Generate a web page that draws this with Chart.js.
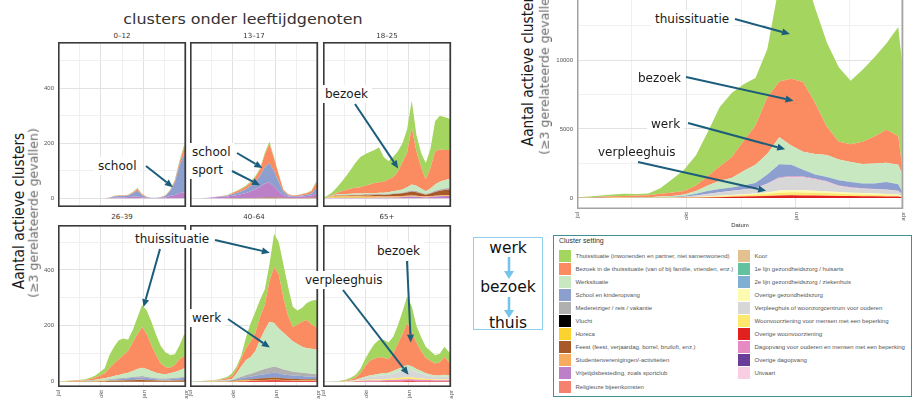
<!DOCTYPE html>
<html lang="nl">
<head>
<meta charset="utf-8">
<title>clusters onder leeftijdgenoten</title>
<script src="https://cdn.jsdelivr.net/npm/chart.js@4.4.1/dist/chart.umd.min.js"></script>
<style>
html,body{margin:0;padding:0;background:#fff;}
body{width:922px;height:403px;overflow:hidden;position:relative;font-family:"DejaVu Sans",sans-serif;}
canvas{position:absolute;display:block;}
.t{position:absolute;white-space:nowrap;line-height:1;}
.ann{position:absolute;white-space:nowrap;background:#fff;color:#1a1a1a;font:12px "DejaVu Sans",sans-serif;line-height:14px;padding:2px 4px;z-index:5;}
.strip{position:absolute;font:7px "DejaVu Sans",sans-serif;color:#333;transform:translate(-50%,-50%);white-space:nowrap;line-height:1;}
#legend{position:absolute;left:553px;top:235px;width:357px;height:160px;border:1.5px solid #3f8f93;background:#fff;font-family:"Liberation Sans",Arial,sans-serif;z-index:3;}
#legend .lt{position:absolute;left:5px;top:1px;font-size:7px;color:#333;white-space:nowrap;}
#legend .it{position:absolute;height:12px;width:170px;}
#legend .sw{position:absolute;left:0;top:0;width:12px;height:12px;}
#legend .lb{position:absolute;left:16.5px;top:0;font-size:6px;line-height:12px;color:#555;white-space:nowrap;}
#flow{position:absolute;left:473px;top:237px;width:68px;height:91px;border:1.5px solid #8fd0ec;background:#fff;z-index:3;}
#overlay{position:absolute;left:0;top:0;z-index:10;pointer-events:none;}
</style>
</head>
<body>
<div id="root"></div>

<div class="t" style="left:243px;top:20px;font-size:13.5px;color:#333;transform:translate(-50%,-50%) scaleX(1.18);">clusters onder leeftijdgenoten</div>
<div class="t" style="left:19px;top:211px;font-size:13.7px;color:#1a1a1a;transform:translate(-50%,-50%) scaleX(1.15) rotate(-90deg);">Aantal actieve clusters</div>
<div class="t" style="left:34px;top:213px;font-size:12.5px;color:#6a6a6a;transform:translate(-50%,-50%) rotate(-90deg);">(≥3 gerelateerde gevallen)</div>
<div class="t" style="left:528px;top:68px;font-size:13.7px;color:#1a1a1a;transform:translate(-50%,-50%) scaleX(1.15) rotate(-90deg);">Aantal actieve clusters</div>
<div class="t" style="left:545px;top:70px;font-size:12.5px;color:#6a6a6a;transform:translate(-50%,-50%) rotate(-90deg);">(≥3 gerelateerde gevallen)</div>

<div id="flow">
  <div class="t" style="left:34px;top:11px;font-size:15.5px;color:#111;transform:translate(-50%,-50%);">werk</div>
  <div class="t" style="left:34px;top:50px;font-size:15.5px;color:#111;transform:translate(-50%,-50%);">bezoek</div>
  <div class="t" style="left:34px;top:86px;font-size:15.5px;color:#111;transform:translate(-50%,-50%);">thuis</div>
</div>
<div id="legend"><div class="lt">Cluster setting</div></div>

<svg id="overlay" width="922" height="403" xmlns="http://www.w3.org/2000/svg"></svg>

<script>
// ---------------- data ----------------
const DAYS = [0,10,20,30,40,50,60,70,80,90,100,110,120,130,140,150,160,170,180,190,200,210,220,230,240,250,260,270,273];
const X_MAJOR_DAYS = [0,92,184,274];
const X_MAJOR_LABELS = ['jul','okt','jan','apr'];
const X_MINOR_DAYS = [46,138,229];
const SMALL_Y_MAJOR = [0,200,400];
const SMALL_Y_MINOR = [100,300,500];
const BIG_Y_MAJOR = [0,5000,10000,15000];
const BIG_Y_MINOR = [2500,7500,12500];
const PANEL_LABELS = ['0–12','13–17','18–25','26–39','40–64','65+'];

// 0-12
const A_vrijetijd = [0,0,0,0,0,0,0,0,0,0,0,1,2,3,3,4,5,6,3,1,1,1,1,3,8,12,18,22,20];
const A_school    = [0,0,0,0,0,0,0,0,0,0,0,1,4,5,5,6,12,22,8,2,1,1,2,5,18,45,100,140,125];
const A_bezoek    = [0,0,0,0,0,0,0,0,0,0,0,1,2,2,2,2,4,6,3,1,0,0,1,2,3,6,12,22,20];
const A_thuis     = [0,0,0,0,0,0,0,0,0,0,0,0,1,1,1,1,2,3,2,1,0,0,0,1,2,3,6,10,10];
// 13-17
const B_feest     = [0,0,0,0,0,0,0,0,0,1,1,1,1,1,1,2,3,3,3,2,2,1,1,1,1,2,2,3,3];
const B_vrijetijd = [0,0,0,1,2,3,4,5,6,8,10,14,18,24,32,40,50,55,40,22,10,5,4,4,5,6,8,14,10];
const B_school    = [0,0,0,0,0,1,1,2,3,5,8,10,14,20,28,40,60,70,55,35,12,5,3,3,4,5,7,18,12];
const B_bezoek    = [0,0,0,0,0,0,1,1,2,4,6,8,10,12,15,22,45,70,45,25,6,3,2,3,4,5,8,20,15];
const B_thuis     = [0,0,0,0,0,0,0,1,1,2,2,3,3,4,5,5,6,8,6,4,2,1,1,1,2,2,3,6,5];
// 18-25
const C_vrijetijd = [0,1,1,2,2,2,2,2,2,2,2,2,2,2,2,3,3,4,5,6,5,4,3,4,6,7,8,8,8];
const C_horeca    = [0,1,2,3,3,3,3,3,3,2,2,1,1,1,1,1,1,1,1,1,1,1,1,1,1,1,1,1,1];
const C_student   = [0,1,3,4,4,4,4,4,4,5,5,5,4,3,3,3,3,3,3,3,3,2,2,2,2,2,3,3,3];
const C_feest     = [0,0,1,2,2,2,3,3,3,4,4,5,6,6,7,8,9,10,12,14,13,10,7,10,14,17,18,20,18];
const C_reis      = [1,1,1,1,1,1,1,1,1,1,1,1,2,2,2,2,2,2,3,4,4,3,2,3,4,5,5,5,5];
const C_werk      = [0,0,1,2,3,3,3,4,4,4,4,4,5,6,7,8,10,12,16,22,19,15,10,15,23,28,30,33,30];
const C_bezoek    = [0,1,3,6,10,15,19,21,23,27,32,37,38,40,46,51,67,98,125,205,125,78,43,75,120,118,110,105,105];
const C_thuis     = [1,5,10,20,35,52,70,92,110,115,118,120,127,90,67,74,75,70,85,100,60,52,60,70,110,122,120,115,110];
// 26-39
const D_feest     = [0,0,0,1,1,1,1,1,1,2,2,3,3,4,4,5,5,6,6,5,5,4,3,3,3,4,4,5,5];
const D_horeca    = [0,1,1,1,1,1,1,1,2,2,2,1,1,1,1,1,1,1,1,1,1,1,1,1,1,1,1,1,1];
const D_school    = [0,0,0,0,0,0,0,1,1,1,2,3,4,4,5,6,7,8,8,7,5,4,4,4,5,6,7,8,7];
const D_reis      = [0,0,0,0,0,0,1,1,1,1,1,2,2,3,3,3,4,4,5,4,4,3,3,3,3,3,3,4,4];
const D_werk      = [0,0,0,0,0,1,1,1,2,4,5,7,10,12,15,17,21,26,30,28,23,20,17,16,18,21,25,30,28];
const D_bezoek    = [0,0,1,1,2,2,3,5,8,12,18,32,45,56,67,78,102,125,145,125,92,63,37,25,20,25,40,44,43];
const D_thuis     = [1,1,1,1,1,2,3,5,7,13,18,47,60,68,60,40,45,60,80,85,85,73,63,53,46,38,50,78,77];
// 40-64
const E_overwoon  = [0,0,0,0,0,0,0,0,0,1,1,2,2,3,3,4,4,5,5,5,4,4,3,3,3,3,3,3,3];
const E_horeca    = [0,0,0,0,1,1,1,1,1,1,2,2,2,2,2,2,2,2,2,2,2,2,2,2,2,2,2,2,2];
const E_feest     = [0,0,0,0,0,0,1,1,1,1,2,3,4,4,5,6,6,7,8,7,6,5,5,5,4,4,4,4,4];
const E_school    = [0,0,0,0,0,0,0,0,1,2,4,6,8,9,11,13,15,16,17,16,14,13,12,11,11,10,9,9,9];
const E_reis      = [0,0,1,1,1,1,1,1,1,1,3,5,8,10,13,15,18,20,22,20,18,16,14,13,12,11,10,9,8];
const E_werk      = [0,0,0,0,0,1,1,2,3,4,18,37,54,60,76,110,140,165,156,140,131,120,109,101,93,90,90,88,86];
const E_bezoek    = [0,0,0,1,1,1,2,4,6,10,15,30,42,57,65,82,90,145,200,195,125,75,50,70,90,101,87,81,78];
const E_thuis     = [0,1,1,1,1,2,2,3,5,10,10,10,40,65,75,61,55,60,120,115,120,105,73,50,50,61,85,97,95];
// 65+
const F_overwoon  = [0,0,0,0,0,0,0,1,1,1,1,1,1,2,2,2,2,2,3,3,2,2,2,2,2,2,2,2,2];
const F_dagopv    = [0,0,0,0,0,0,1,1,2,2,3,3,3,3,4,4,5,6,6,6,5,5,4,4,3,3,3,3,3];
const F_woonv     = [0,0,0,0,0,1,1,1,2,3,3,4,4,4,4,5,6,6,7,7,6,5,4,4,3,3,4,3,3];
const F_verpleeg  = [0,0,0,1,1,1,2,3,5,8,10,11,13,14,15,18,21,25,28,25,20,17,13,11,9,9,10,9,8];
const F_werk      = [0,0,0,0,0,0,0,1,2,4,5,6,7,7,7,9,11,13,16,14,12,9,7,5,5,5,6,5,4];
const F_bezoek    = [0,0,0,0,1,2,4,8,18,37,53,57,60,55,48,62,90,118,150,125,95,72,55,49,43,48,63,48,45];
const F_thuis     = [0,0,1,1,2,4,7,10,15,25,35,53,62,65,60,60,65,80,95,90,60,50,40,35,30,30,37,35,35];
// all ages (big chart)
const G_overwoon  = [0,0,0,0,0,0,0,0,5,10,20,40,60,80,100,120,150,180,190,180,170,160,150,140,130,120,110,100,60];
const G_horeca    = [2,4,6,8,10,12,14,15,15,15,15,10,8,6,5,5,5,5,5,5,5,5,5,5,5,5,5,5,5];
const G_woonv     = [0,0,0,0,0,0,1,3,5,10,20,40,60,80,100,120,150,200,220,210,190,170,150,130,120,100,90,70,40];
const G_overgz    = [0,0,0,0,0,1,2,3,5,10,20,30,40,50,60,70,100,150,170,170,160,140,120,110,100,90,80,70,40];
const G_verpleeg  = [0,0,0,2,2,2,3,8,18,40,100,170,240,290,340,380,620,920,940,940,840,700,440,360,315,310,310,255,145];
const G_dagopv    = [0,0,0,0,0,0,0,1,2,5,5,10,12,14,15,25,30,50,55,55,50,45,35,35,30,25,25,20,10];
const G_school    = [1,1,4,5,8,10,10,20,30,60,120,200,230,230,280,360,645,945,820,490,285,300,380,370,350,400,530,480,200];
const G_werk      = [2,5,10,15,20,25,30,50,70,100,200,400,600,700,1050,1320,1500,1950,1400,1300,1480,1600,1500,1450,1410,1450,1400,1400,1300];
const G_bezoek    = [15,40,60,90,110,120,140,200,250,250,400,700,1050,1500,2180,2850,4100,4050,4850,5050,3720,2050,1300,1300,1620,1950,2400,2100,700];
const G_thuis     = [30,50,100,140,150,110,120,400,950,1550,2200,3200,4300,4650,4120,3450,3500,7050,8150,8100,6900,6100,5400,4600,5220,5750,6250,7900,7500];

const LEGEND_KEYS = ['thuis','bezoek','werk','school','reis','vlucht','horeca','feest','student','vrijetijd','religie',
                     'koor','eerstelijn','tweedelijn','overgz','verpleeg','woonv','overwoon','dagopv','overdag','uitvaart'];
const LEGEND_LABELS = [
  'Thuissituatie (inwonenden en partner, niet samenwonend)',
  'Bezoek in de thuissituatie (van of bij familie, vrienden, enz.)',
  'Werksituatie',
  'School en kinderopvang',
  'Medereiziger / reis / vakantie',
  'Vlucht',
  'Horeca',
  'Feest (feest, verjaardag, borrel, bruiloft, enz.)',
  'Studentenverenigingen/-activiteiten',
  'Vrijetijdsbesteding, zoals sportclub',
  'Religieuze bijeenkomsten',
  'Koor',
  '1e lijn gezondheidszorg / huisarts',
  '2e lijn gezondheidszorg / ziekenhuis',
  'Overige gezondheidszorg',
  'Verpleeghuis of woonzorgcentrum voor ouderen',
  'Woonvoorziening voor mensen met een beperking',
  'Overige woonvoorziening',
  'Dagopvang voor ouderen en mensen met een beperking',
  'Overige dagopvang',
  'Uitvaart'
];
const COLORS = {
  thuis:'#a4d55e', bezoek:'#fb8c61', werk:'#c7e8c1', school:'#8c9fce', reis:'#b0b0b0', vlucht:'#000000',
  horeca:'#fbd22e', feest:'#a8592a', student:'#f7ab5f', vrijetijd:'#bb80c8', religie:'#f7816f',
  koor:'#e3c18f', eerstelijn:'#63c19f', tweedelijn:'#7fb0d4', overgz:'#fdfbb1', verpleeg:'#d7d7d7',
  woonv:'#fde86e', overwoon:'#e2211f', dagopv:'#e68ac3', overdag:'#6b3d9b', uitvaart:'#f9cee3'
};

// ---------------- layout ----------------
const PANELS = [
  {x:58,  y:42,  w:128, h:165, yw:20, xh:0,  pr:4, showY:true,  showX:false, yMin:-32, yMax:568},
  {x:190, y:42,  w:128, h:165, yw:4,  xh:0,  pr:4, showY:false, showX:false, yMin:-32, yMax:568},
  {x:323, y:42,  w:128, h:165, yw:4,  xh:0,  pr:4, showY:false, showX:false, yMin:-32, yMax:568},
  {x:58,  y:225, w:128, h:162, yw:20, xh:16, pr:4, showY:true,  showX:true,  yMin:-19, yMax:561},
  {x:190, y:225, w:128, h:162, yw:4,  xh:16, pr:4, showY:false, showX:true,  yMin:-19, yMax:561},
  {x:323, y:225, w:128, h:162, yw:4,  xh:16, pr:4, showY:false, showX:true,  yMin:-19, yMax:561},
  {x:577, y:-20, w:326, h:229, yw:26, xh:22, pr:6, showY:true,  showX:true,  yMin:-800, yMax:15800, big:true}
];
const PANEL_SERIES = [
  [['vrijetijd',A_vrijetijd],['school',A_school],['bezoek',A_bezoek],['thuis',A_thuis]],
  [['feest',B_feest],['vrijetijd',B_vrijetijd],['school',B_school],['bezoek',B_bezoek],['thuis',B_thuis]],
  [['vrijetijd',C_vrijetijd],['horeca',C_horeca],['student',C_student],['feest',C_feest],['reis',C_reis],['werk',C_werk],['bezoek',C_bezoek],['thuis',C_thuis]],
  [['feest',D_feest],['horeca',D_horeca],['school',D_school],['reis',D_reis],['werk',D_werk],['bezoek',D_bezoek],['thuis',D_thuis]],
  [['overwoon',E_overwoon],['horeca',E_horeca],['feest',E_feest],['school',E_school],['reis',E_reis],['werk',E_werk],['bezoek',E_bezoek],['thuis',E_thuis]],
  [['overwoon',F_overwoon],['dagopv',F_dagopv],['woonv',F_woonv],['verpleeg',F_verpleeg],['werk',F_werk],['bezoek',F_bezoek],['thuis',F_thuis]],
  [['overwoon',G_overwoon],['horeca',G_horeca],['woonv',G_woonv],['overgz',G_overgz],['verpleeg',G_verpleeg],['dagopv',G_dagopv],['school',G_school],['werk',G_werk],['bezoek',G_bezoek],['thuis',G_thuis]]
];
// label text, label position (page px), arrow start (page px), arrow target (panel, day, value)
const ANNOTATIONS = [
  {text:'school',        lx:98,  ly:166, sx:146, sy:166, panel:0, day:246, val:40},
  {text:'school',        lx:192, ly:152, sx:237, sy:153, panel:1, day:155, val:110},
  {text:'sport',         lx:192, ly:170, sx:232, sy:171, panel:1, day:150, val:47},
  {text:'bezoek',        lx:325, ly:94,  sx:355, sy:104, panel:2, day:161, val:108},
  {text:'thuissituatie', lx:135, ly:239, sx:160, sy:249, panel:3, day:183, val:267},
  {text:null,                            sx:215, sy:240, panel:4, day:171, val:462},
  {text:'werk',          lx:192, ly:318, sx:228, sy:319, panel:4, day:171, val:122},
  {text:'bezoek',        lx:377, ly:251, sx:407, sy:261, panel:5, day:188, val:140},
  {text:'verpleeghuis',  lx:305, ly:280, sx:343, sy:290, panel:5, day:183, val:25},
  {text:'thuissituatie', lx:655, ly:19,  sx:735, sy:19,  panel:6, day:179, val:11880},
  {text:'bezoek',        lx:638, ly:78,  sx:686, sy:77,  panel:6, day:182, val:7050},
  {text:'werk',          lx:651, ly:124, sx:688, sy:123, panel:6, day:175, val:3525},
  {text:'verpleeghuis',  lx:598, ly:152, sx:638, sy:162, panel:6, day:159, val:525}
];

// ---------------- charts ----------------
const panelBorder = {
  id:'panelBorder',
  afterDraw(chart, args, opts) {
    const a = chart.chartArea, ctx = chart.ctx, w = opts.width;
    ctx.save();
    ctx.strokeStyle = opts.color; ctx.lineWidth = w;
    ctx.strokeRect(a.left + w/2, a.top + w/2, a.right - a.left - w, a.bottom - a.top - w);
    ctx.restore();
  }
};
function tickList(major, minor){ return major.concat(minor).sort((a,b)=>a-b); }

function makeChart(p, series) {
  const W = p.w + p.yw + p.pr, H = p.h + p.xh;
  const cv = document.createElement('canvas');
  cv.width = W; cv.height = H;
  cv.style.left = (p.x - p.yw) + 'px'; cv.style.top = p.y + 'px';
  cv.style.width = W + 'px'; cv.style.height = H + 'px';
  document.getElementById('root').appendChild(cv);
  const yMajor = p.big ? BIG_Y_MAJOR : SMALL_Y_MAJOR;
  const yMinor = p.big ? BIG_Y_MINOR : SMALL_Y_MINOR;
  const datasets = series.map(([key, vals], i) => ({
    label: key,
    data: DAYS.map((d, k) => ({x: d, y: vals[k]})),
    backgroundColor: COLORS[key], borderColor: COLORS[key], borderWidth: 0,
    pointRadius: 0, pointHoverRadius: 0, tension: 0,
    fill: i === 0 ? 'origin' : '-1'
  }));
  const zeroPad = s => { s.paddingLeft = 0; s.paddingRight = 0; s.paddingTop = 0; s.paddingBottom = 0; };
  const tickFont = {family:'"Liberation Sans", Arial, sans-serif', size:6};
  const chart = new Chart(cv, {
    type:'line',
    data:{datasets},
    options:{
      responsive:false, maintainAspectRatio:false, animation:false, devicePixelRatio:1, events:[],
      layout:{padding:{left:0, right:p.pr, top:0, bottom:0}},
      plugins:{legend:{display:false}, tooltip:{enabled:false},
               panelBorder:{color: p.big ? '#a3a3a3' : '#3a3a3a', width: p.big ? 1.5 : 1.6}},
      scales:{
        x:{
          type:'linear', min:0, max:274,
          afterBuildTicks: s => { s.ticks = tickList(X_MAJOR_DAYS, X_MINOR_DAYS).map(v => ({value:v})); },
          afterFit: s => { s.height = p.xh; zeroPad(s); },
          ticks:{display:p.showX, autoSkip:false, minRotation:90, maxRotation:90, padding:3, font:tickFont, color:'#555',
                 callback: v => { const i = X_MAJOR_DAYS.indexOf(v); return i < 0 ? '' : X_MAJOR_LABELS[i]; }},
          grid:{drawTicks:false, lineWidth:1,
                color: c => (c.tick && X_MAJOR_DAYS.includes(c.tick.value)) ? '#e2e2e2' : '#f0f0f0'},
          border:{display:false},
          title: p.big ? {display:true, text:'Datum', font:tickFont, color:'#333', padding:{top:2, bottom:2}} : {display:false}
        },
        y:{
          stacked:true, min:p.yMin, max:p.yMax,
          afterBuildTicks: s => { s.ticks = tickList(yMajor, yMinor).filter(v => v >= p.yMin && v <= p.yMax).map(v => ({value:v})); },
          afterFit: s => { s.width = p.yw; zeroPad(s); },
          ticks:{display:p.showY, padding:4, font:tickFont, color:'#555',
                 callback: v => yMajor.includes(v) ? String(v) : ''},
          grid:{drawTicks:false, lineWidth:1,
                color: c => (c.tick && yMajor.includes(c.tick.value)) ? '#e2e2e2' : '#f0f0f0'},
          border:{display:false}
        }
      }
    },
    plugins:[panelBorder]
  });
  chart.$pageLeft = p.x - p.yw;
  chart.$pageTop = p.y;
  return chart;
}

const charts = PANELS.map((p, i) => makeChart(p, PANEL_SERIES[i]));

// strip labels
PANELS.slice(0, 6).forEach((p, i) => {
  const d = document.createElement('div');
  d.className = 'strip';
  d.style.left = (p.x + p.w / 2) + 'px';
  d.style.top = (i < 3 ? 36 : 217) + 'px';
  d.textContent = PANEL_LABELS[i];
  document.body.appendChild(d);
});

// legend
const legend = document.getElementById('legend');
LEGEND_KEYS.forEach((k, i) => {
  const col = i < 11 ? 0 : 1, row = i < 11 ? i : i - 11;
  const it = document.createElement('div');
  it.className = 'it';
  it.style.left = (col === 0 ? 5 : 184) + 'px';
  it.style.top = (13.5 + row * 13.1) + 'px';
  it.innerHTML = '<div class="sw" style="background:' + COLORS[k] + '"></div><div class="lb"></div>';
  it.querySelector('.lb').textContent = LEGEND_LABELS[i];
  legend.appendChild(it);
});

// annotations
const svg = document.getElementById('overlay');
const NS = 'http://www.w3.org/2000/svg';
function arrow(x1, y1, x2, y2, color, width, headLen, headW) {
  const ang = Math.atan2(y2 - y1, x2 - x1);
  const bx = x2 - headLen * Math.cos(ang), by = y2 - headLen * Math.sin(ang);
  const ln = document.createElementNS(NS, 'line');
  ln.setAttribute('x1', x1); ln.setAttribute('y1', y1);
  ln.setAttribute('x2', bx); ln.setAttribute('y2', by);
  ln.setAttribute('stroke', color); ln.setAttribute('stroke-width', width);
  svg.appendChild(ln);
  const px = Math.sin(ang) * headW / 2, py = -Math.cos(ang) * headW / 2;
  const pg = document.createElementNS(NS, 'polygon');
  pg.setAttribute('points', x2 + ',' + y2 + ' ' + (bx + px) + ',' + (by + py) + ' ' + (bx - px) + ',' + (by - py));
  pg.setAttribute('fill', color);
  svg.appendChild(pg);
}
ANNOTATIONS.forEach(a => {
  if (a.text) {
    const d = document.createElement('div');
    d.className = 'ann';
    d.style.left = (a.lx - 4) + 'px';
    d.style.top = (a.ly - 9) + 'px';
    d.textContent = a.text;
    document.body.appendChild(d);
  }
  const ch = charts[a.panel];
  const tx = ch.$pageLeft + ch.scales.x.getPixelForValue(a.day);
  const ty = ch.$pageTop + ch.scales.y.getPixelForValue(a.val);
  arrow(a.sx, a.sy, tx, ty, '#1c5d7b', 2, 8, 7);
});
// flow arrows (werk -> bezoek -> thuis)
arrow(509, 257, 509, 279, '#74c3ea', 2.5, 8, 10);
arrow(509, 297, 509, 318, '#74c3ea', 2.5, 8, 10);
</script>
</body>
</html>
